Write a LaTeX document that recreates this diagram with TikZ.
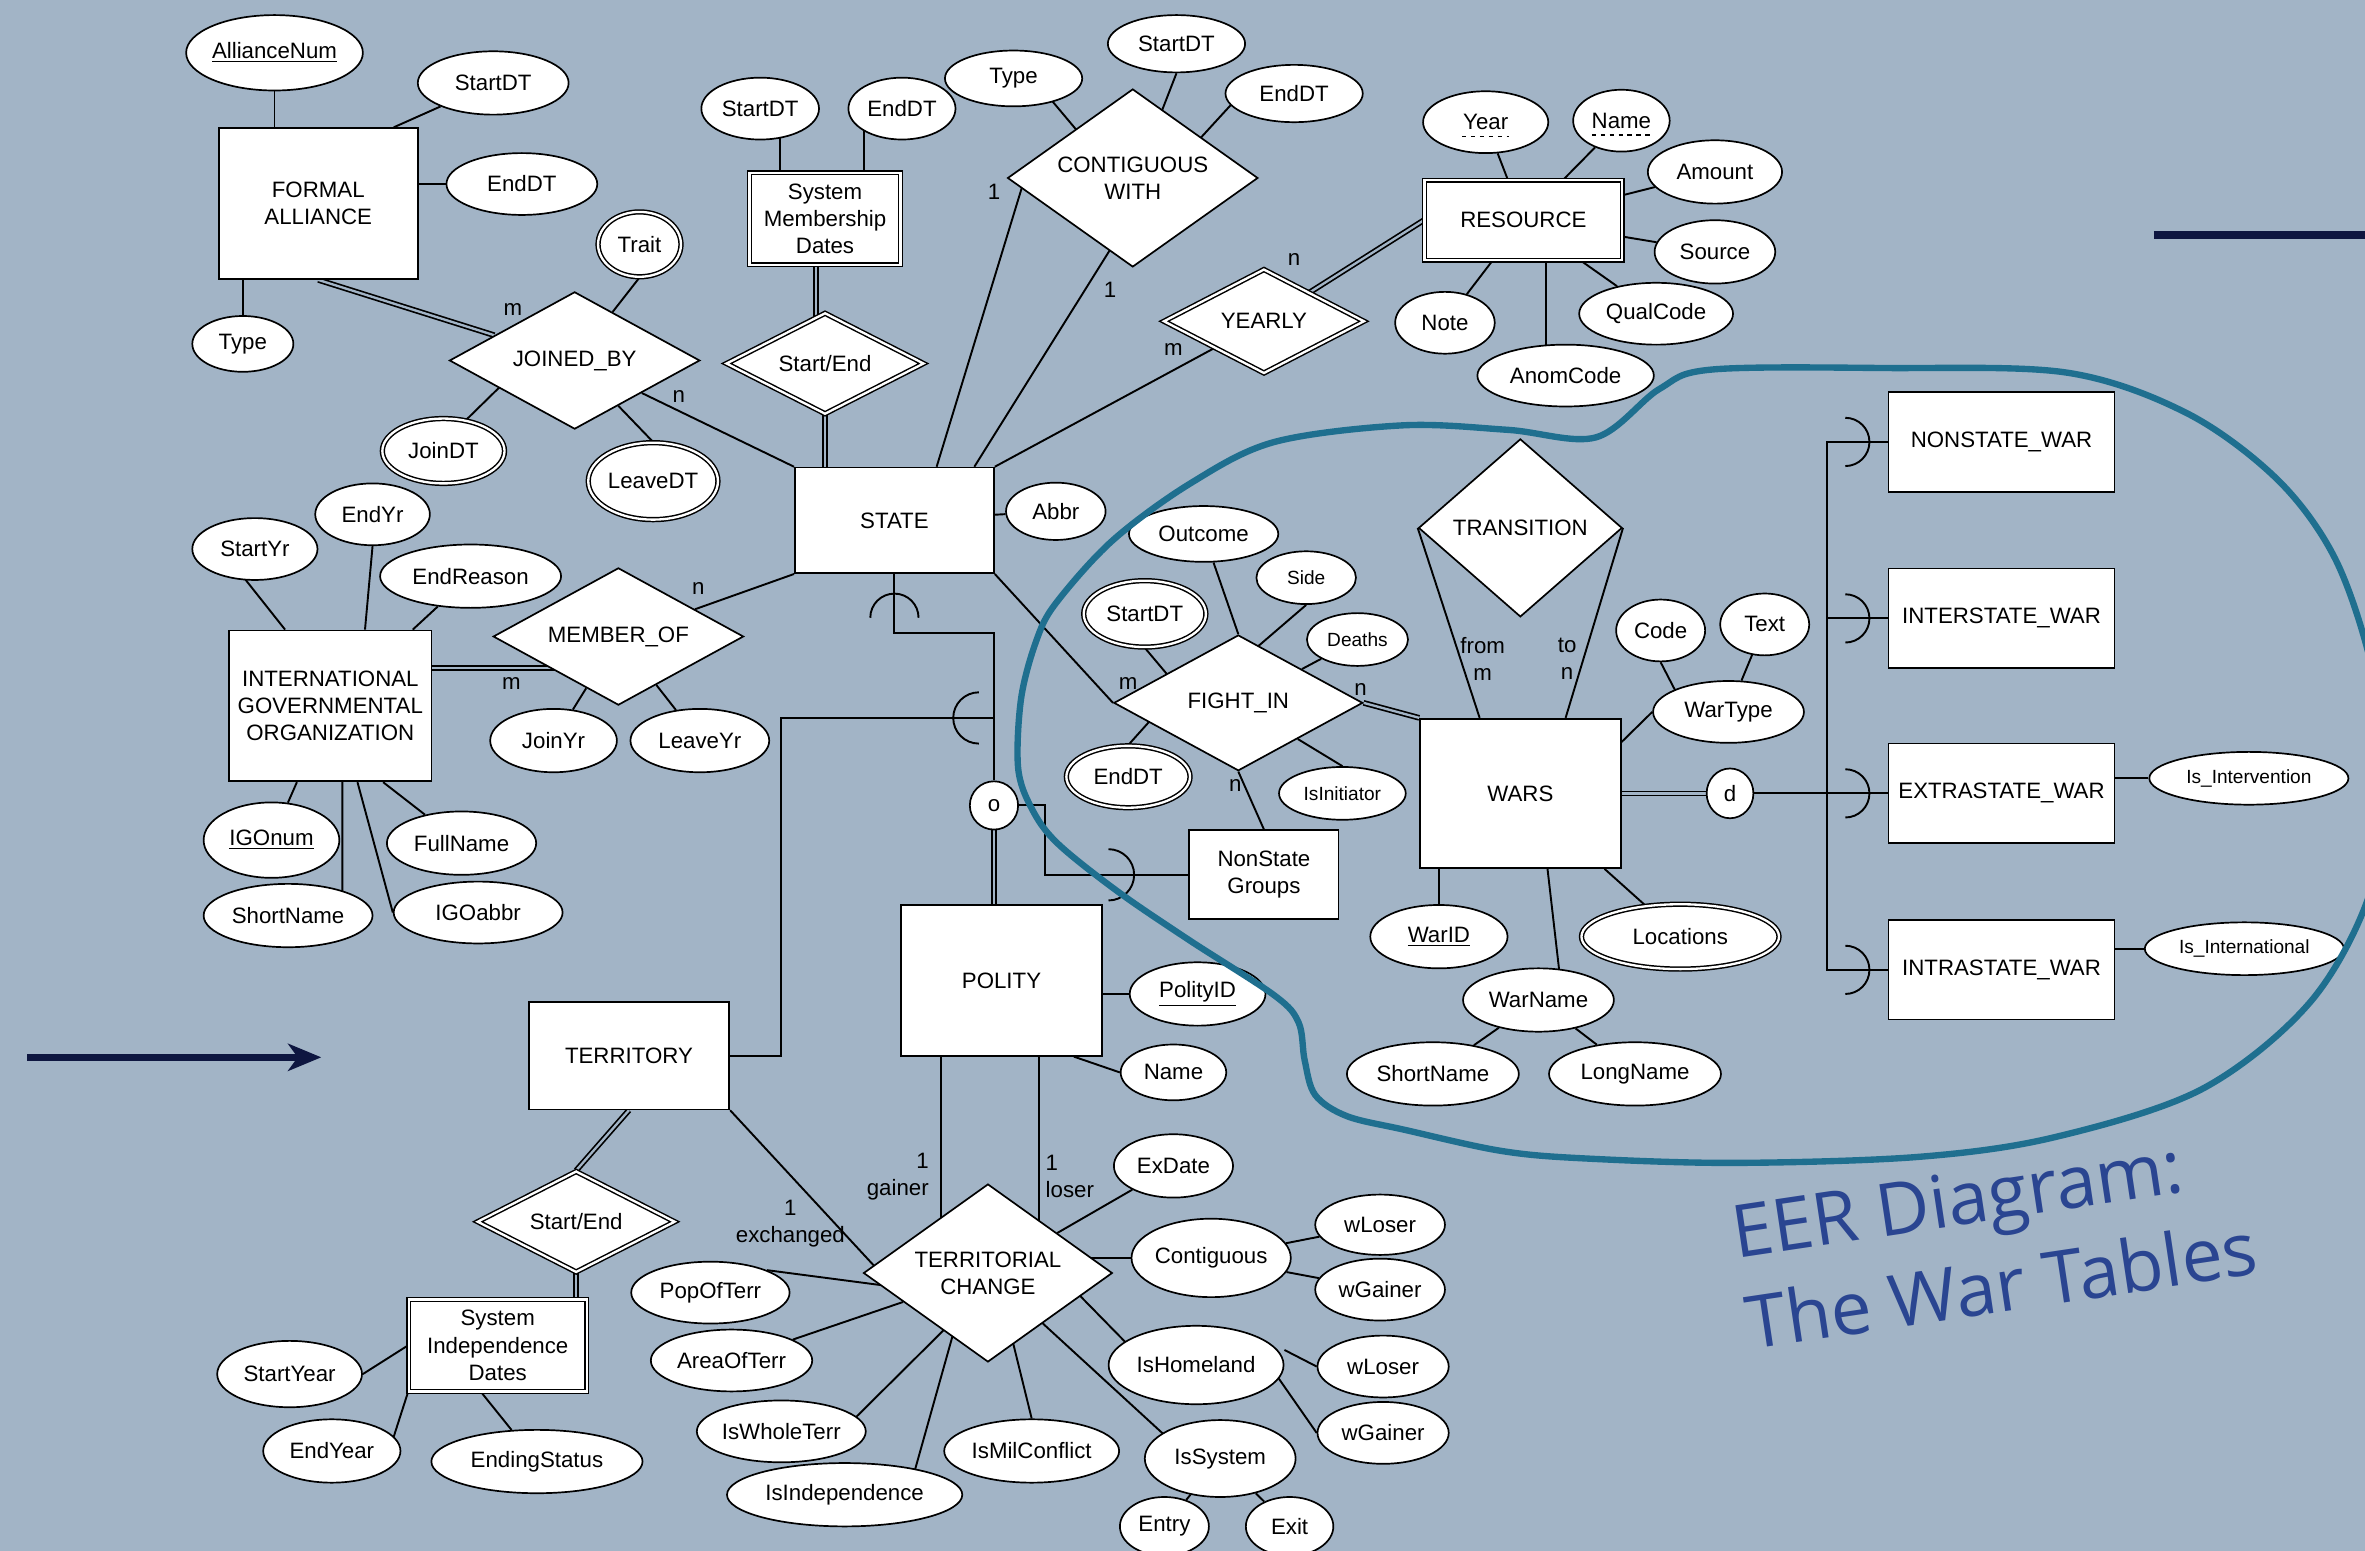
\documentclass[tikz,border=0pt]{standalone}
\usepackage{fontspec}
\setmainfont{Liberation Sans}
\newfontfamily\titlefont{Open Sans}
\usepackage{tikz}
\usetikzlibrary{shapes.geometric,arrows.meta,calc,backgrounds}
\definecolor{bg}{HTML}{A2B4C6}
\definecolor{ring}{HTML}{1F6F8F}
\definecolor{dark}{HTML}{0E1640}
\definecolor{ttl}{HTML}{2A4591}
\newcommand{\smallfnt}{\fontsize{9}{10.5}\selectfont}
\tikzset{
  ent/.style={draw, fill=white, line width=0.8pt, align=center, inner sep=1pt},
  went/.style={ent, line width=0.7pt, double, double distance=1.1pt},
  rel/.style={diamond, draw, fill=white, line width=0.8pt, align=center, inner sep=0pt},
  wrel/.style={rel, line width=0.7pt, double, double distance=1.1pt},
  att/.style={ellipse, draw, fill=white, line width=0.8pt, inner sep=0pt, align=center},
  matt/.style={att, line width=0.7pt, double, double distance=1.1pt},
  lnk/.style={line width=0.9pt},
  dbl/.style={line width=0.8pt, double=bg, double distance=1.1pt},
  partial/.style={line width=0.8pt, dash pattern=on 2pt off 2.2pt},
  card/.style={inner sep=0pt, align=center},
  heading/.style={font=\titlefont\fontsize{34.5}{43.5}\selectfont, text=ttl, inner sep=0pt, rotate=8.5, align=left},
}

\begin{document}
\begin{tikzpicture}[x=0.25mm, y=-0.25mm, font=\fontsize{10.5}{12.8}\selectfont]
  \useasboundingbox (0,0) rectangle (1568,1028);
  % entities
  \node[ent, minimum width=33mm, minimum height=25mm] (fa) at (211,135) {FORMAL\\ALLIANCE};
  \node[went, minimum width=25mm, minimum height=15.25mm] (smd) at (547,145) {System\\Membership\\Dates};
  \node[ent, minimum width=33mm, minimum height=17.5mm] (state) at (593,345) {STATE};
  \node[went, minimum width=32.75mm, minimum height=13.25mm] (res) at (1010,146) {RESOURCE};
  \node[ent, minimum width=33.5mm, minimum height=25mm] (igo) at (219,468) {INTERNATIONAL\\GOVERNMENTAL\\ORGANIZATION};
  \node[ent, minimum width=33.25mm, minimum height=24.75mm] (wars) at (1008,526) {WARS};
  \node[ent, minimum width=24.75mm, minimum height=14.75mm] (nsg) at (838,580) {NonState\\Groups};
  \node[ent, minimum width=33.25mm, minimum height=25mm] (polity) at (664,650) {POLITY};
  \node[ent, minimum width=33.25mm, minimum height=17.75mm] (terr) at (417,700) {TERRITORY};
  \node[went, minimum width=29.5mm, minimum height=15.25mm] (sid) at (330,892) {System\\Independence\\Dates};
  \node[ent, minimum width=37.5mm, minimum height=16.5mm] (nsw) at (1327,293) {NONSTATE\_WAR};
  \node[ent, minimum width=37.5mm, minimum height=16.5mm] (isw) at (1327,410) {INTERSTATE\_WAR};
  \node[ent, minimum width=37.5mm, minimum height=16.5mm] (esw) at (1327,526) {EXTRASTATE\_WAR};
  \node[ent, minimum width=37.5mm, minimum height=16.5mm] (itw) at (1327,643) {INTRASTATE\_WAR};
  % relationships
  \node[rel, minimum width=41.5mm, minimum height=22.75mm, shape aspect=1.8] (jb) at (381,239) {JOINED\_BY};
  \node[wrel, minimum width=32.75mm, minimum height=16.75mm, shape aspect=1.95] (se1) at (547,241) {Start/End};
  \node[rel, minimum width=41.5mm, minimum height=29.5mm, shape aspect=1.4] (cw) at (751,118) {CONTIGUOUS\\WITH};
  \node[wrel, minimum width=33.25mm, minimum height=17.25mm, shape aspect=1.9] (yearly) at (838,213) {YEARLY};
  \node[rel, minimum width=41.5mm, minimum height=22.75mm, shape aspect=1.8] (mo) at (410,422) {MEMBER\_OF};
  \node[rel, minimum width=33.75mm, minimum height=29.5mm, shape aspect=1.15] (trans) at (1008,350) {TRANSITION};
  \node[rel, minimum width=41.25mm, minimum height=22.5mm, shape aspect=1.8] (fi) at (821,466) {FIGHT\_IN};
  \node[wrel, minimum width=32.75mm, minimum height=16.75mm, shape aspect=1.95] (se2) at (382,810) {Start/End};
  \node[rel, minimum width=41.25mm, minimum height=29.5mm, shape aspect=1.4] (tc) at (655,844) {TERRITORIAL\\CHANGE};
  \node[circle, draw, fill=white, line width=0.8pt, minimum size=8mm, inner sep=0pt] (ovl) at (659,534) {o};
  \node[att, minimum width=7.75mm, minimum height=8.25mm] (dsj) at (1147,526) {d};
  % attributes
  \node[att, minimum width=27mm, minimum height=12.5mm] (anum) at (182,35) {\underline{AllianceNum}};
  \node[att, minimum width=25mm, minimum height=10.5mm] (fstart) at (327,55) {StartDT};
  \node[att, minimum width=25mm, minimum height=10.25mm] (fend) at (346,122) {EndDT};
  \node[att, minimum width=16.75mm, minimum height=9.25mm] (ftype) at (161,228) {Type};
  \node[matt, minimum width=13.75mm, minimum height=10.75mm] (trait) at (424,162) {Trait};
  \node[matt, minimum width=20.25mm, minimum height=10.75mm] (joindt) at (294,299) {JoinDT};
  \node[matt, minimum width=21.5mm, minimum height=12.75mm] (leavedt) at (433,319) {LeaveDT};
  \node[att, minimum width=19.5mm, minimum height=10.25mm] (sstart) at (504,72) {StartDT};
  \node[att, minimum width=17.75mm, minimum height=10.25mm] (send) at (598,72) {EndDT};
  \node[att, minimum width=22.75mm, minimum height=9.25mm] (ctype) at (672,52) {Type};
  \node[att, minimum width=22.75mm, minimum height=9.5mm] (cstart) at (780,29) {StartDT};
  \node[att, minimum width=22.75mm, minimum height=9.5mm] (cend) at (858,62) {EndDT};
  \node[att, minimum width=20.75mm, minimum height=10.25mm] (ryear) at (985,81) {Year};
  \node[att, minimum width=16mm, minimum height=10.25mm] (rname) at (1075,80) {Name};
  \draw[partial] ([xshift=-3.9mm, yshift=-1.1mm]ryear.base) -- ([xshift=3.9mm, yshift=-1.1mm]ryear.base);
  \draw[partial] ([xshift=-4.9mm, yshift=-1.1mm]rname.base) -- ([xshift=4.9mm, yshift=-1.1mm]rname.base);
  \node[att, minimum width=22.25mm, minimum height=10.5mm] (ramt) at (1137,114) {Amount};
  \node[att, minimum width=20mm, minimum height=10.5mm] (rsrc) at (1137,167) {Source};
  \node[att, minimum width=25.5mm, minimum height=10.25mm] (rqual) at (1098,208) {QualCode};
  \node[att, minimum width=16.5mm, minimum height=10.25mm] (rnote) at (958,214) {Note};
  \node[att, minimum width=29.25mm, minimum height=10.25mm] (ranom) at (1038,249) {AnomCode};
  \node[att, minimum width=16.5mm, minimum height=9.5mm] (abbr) at (700,339) {Abbr};
  \node[att, minimum width=20.75mm, minimum height=10.25mm] (startyr) at (169,364) {StartYr};
  \node[att, minimum width=19mm, minimum height=10.25mm] (endyr) at (247,341) {EndYr};
  \node[att, minimum width=30mm, minimum height=10.5mm] (endreason) at (312,382) {EndReason};
  \node[att, minimum width=21mm, minimum height=10.5mm] (joinyr) at (367,491) {JoinYr};
  \node[att, minimum width=23mm, minimum height=10.5mm] (leaveyr) at (464,491) {LeaveYr};
  \node[att, minimum width=22.5mm, minimum height=12.5mm] (igonum) at (180,557) {\underline{IGOnum}};
  \node[att, minimum width=24.75mm, minimum height=10.5mm] (fullname) at (306,559) {FullName};
  \node[att, minimum width=28mm, minimum height=10.5mm] (ishort) at (191,607) {ShortName};
  \node[att, minimum width=28mm, minimum height=10.25mm] (igoabbr) at (317,605) {IGOabbr};
  \node[att, minimum width=24.75mm, minimum height=9.25mm] (outcome) at (798,354) {Outcome};
  \node[att, minimum width=16.5mm, minimum height=8.75mm, font=\smallfnt] (side) at (866,383) {Side};
  \node[matt, minimum width=20.25mm, minimum height=11mm] (fstartdt) at (759,407) {StartDT};
  \node[att, minimum width=16.75mm, minimum height=8.75mm, font=\smallfnt] (deaths) at (900,424) {Deaths};
  \node[matt, minimum width=20.5mm, minimum height=10.25mm] (fenddt) at (748,515) {EndDT};
  \node[att, minimum width=21mm, minimum height=8.75mm, font=\smallfnt] (isinit) at (890,526) {IsInitiator};
  \node[att, minimum width=14.75mm, minimum height=10.25mm] (code) at (1101,418) {Code};
  \node[att, minimum width=14.75mm, minimum height=10.25mm] (wtext) at (1170,414) {Text};
  \node[att, minimum width=25mm, minimum height=10.25mm] (wartype) at (1146,472) {WarType};
  \node[att, minimum width=22.75mm, minimum height=10.5mm] (warid) at (954,621) {\underline{WarID}};
  \node[matt, minimum width=32.75mm, minimum height=10.75mm] (locs) at (1114,621) {Locations};
  \node[att, minimum width=25mm, minimum height=10.5mm] (warname) at (1020,663) {WarName};
  \node[att, minimum width=28.5mm, minimum height=10.5mm] (wshort) at (950,712) {ShortName};
  \node[att, minimum width=28.5mm, minimum height=10.5mm] (wlong) at (1084,712) {LongName};
  \node[att, minimum width=33mm, minimum height=8.75mm, font=\smallfnt] (isinterv) at (1491,516) {Is\_Intervention};
  \node[att, minimum width=33mm, minimum height=8.75mm, font=\smallfnt] (isintl) at (1488,629) {Is\_International};
  \node[att, minimum width=22.5mm, minimum height=10.5mm] (polid) at (794,659) {\underline{PolityID}};
  \node[att, minimum width=17.5mm, minimum height=9.25mm] (pname) at (778,711) {Name};
  \node[att, minimum width=19.75mm, minimum height=10.5mm] (exdate) at (778,773) {ExDate};
  \node[att, minimum width=25mm, minimum height=13mm] (contig) at (803,834) {Contiguous};
  \node[att, minimum width=21.5mm, minimum height=10mm] (wl1) at (915,812) {wLoser};
  \node[att, minimum width=21.5mm, minimum height=10.25mm] (wg1) at (915,855) {wGainer};
  \node[att, minimum width=29mm, minimum height=13mm] (home) at (793,905) {IsHomeland};
  \node[att, minimum width=21.75mm, minimum height=10.25mm] (wl2) at (917,906) {wLoser};
  \node[att, minimum width=21.75mm, minimum height=10.25mm] (wg2) at (917,950) {wGainer};
  \node[att, minimum width=25mm, minimum height=12.75mm] (issys) at (809,967) {IsSystem};
  \node[att, minimum width=14.75mm, minimum height=9.75mm] (entry) at (772,1012) {Entry};
  \node[att, minimum width=14.5mm, minimum height=9.75mm] (exit) at (855,1012) {Exit};
  \node[att, minimum width=29mm, minimum height=10.5mm] (milc) at (684,962) {IsMilConflict};
  \node[att, minimum width=39mm, minimum height=10.5mm] (indep) at (560,991) {IsIndependence};
  \node[att, minimum width=28mm, minimum height=10.25mm] (whole) at (518,949) {IsWholeTerr};
  \node[att, minimum width=26.75mm, minimum height=10.25mm] (area) at (485,902) {AreaOfTerr};
  \node[att, minimum width=26.25mm, minimum height=10.25mm] (pop) at (471,857) {PopOfTerr};
  \node[att, minimum width=24mm, minimum height=11mm] (syear) at (192,911) {StartYear};
  \node[att, minimum width=22.75mm, minimum height=10.5mm] (eyear) at (220,962) {EndYear};
  \node[att, minimum width=35mm, minimum height=10.5mm] (estat) at (356,969) {EndingStatus};
  % cardinalities
  \node[card] (mFA) at (340,205) {m};
  \node[card] (nJB) at (450,263) {n};
  \node[card] (oneCWa) at (659,127) {1};
  \node[card] (oneCWb) at (736,192) {1};
  \node[card] (nYR) at (858,172) {n};
  \node[card] (mYR) at (778,232) {m};
  \node[card] (nMO) at (463,390) {n};
  \node[card] (mMO) at (339,453) {m};
  \node[card] (mFI) at (748,453) {m};
  \node[card] (nFI) at (902,457) {n};
  \node[card] (nNS) at (819,521) {n};
  \node[card] (fromTR) at (983,437) {from\\m};
  \node[card] (toTR) at (1039,437) {to\\n};
  \node[card, align=right, anchor=east] (gain) at (616,780) {1\\gainer};
  \node[card, align=left, anchor=west] (lose) at (693,780) {1\\loser};
  \node[card] (exch) at (524,811) {1\\exchanged};

  \begin{scope}[on background layer]
    \fill[bg] (0,0) rectangle (1568,1028);
    % formal alliance
    \draw[lnk] (anum) -- (anum |- fa);
    \draw[lnk] (fstart) -- ([xshift=12.5mm]fa.north);
    \draw[lnk] (fend) -- (fend -| fa);
    \draw[lnk] (ftype) -- (ftype |- fa);
    \draw[dbl] (fa.south) -- (jb);
    \draw[lnk] (trait.south) -- (jb);
    \draw[lnk] ([xshift=-1.5mm]joindt.center) -- ($(jb)+(-45,13)$);
    \draw[lnk] (leavedt.north) -- (jb);
    \draw[lnk] (jb) -- (state.north west);
    % membership dates, contiguity, resources
    \draw[lnk] ([xshift=3.25mm]sstart.center) -- ([xshift=3.25mm]sstart.center |- smd.north);
    \draw[lnk] ([xshift=-6.25mm]send.center) -- ([xshift=-6.25mm]send.center |- smd.north);
    \draw[dbl] ([xshift=-1.5mm]smd.south) -- ([xshift=-1.5mm]se1.center);
    \draw[dbl] (se1) -- (se1 |- state.north);
    \draw[lnk] ($(state.north)+(28,0)$) -- ($(cw.west)+(12,0)$);
    \draw[lnk] ($(state.north)+(53,0)$) -- ($(cw.south)+(-10,-20)$);
    \draw[lnk] ($(ctype)+(13,0)$) -- ($(cw)+(-24,-16)$);
    \draw[lnk] (cstart.south) -- ($(cw)+(16,-36)$);
    \draw[lnk] ($(cend)+(-35,0)$) -- ($(cw)+(39,-20)$);
    \draw[lnk] (yearly) -- (state.north east);
    \draw[dbl] (yearly) -- (res.west);
    \draw[lnk] (ryear) -- (res);
    \draw[lnk] (rname) -- (res);
    \draw[lnk] (ramt) -- (res);
    \draw[lnk] (rsrc) -- (res);
    \draw[lnk] (rqual) -- (res);
    \draw[lnk] (rnote) -- (res);
    \draw[lnk] ([xshift=-3.25mm]ranom.center) -- ([xshift=-3.25mm]ranom.center |- res.south);
    % state and igo
    \draw[lnk] (abbr) -- (state);
    \draw[lnk] (mo) -- (state.south west);
    \draw[dbl] ([yshift=6.25mm]igo.east) -- ([yshift=6.25mm]igo.east -| mo);
    \draw[lnk] (joinyr) -- (mo);
    \draw[lnk] (leaveyr) -- (mo);
    \draw[lnk] ([xshift=-3mm,yshift=2mm]startyr.south) -- ([xshift=-7.5mm]igo.north);
    \draw[lnk] (endyr.south) -- ([xshift=5.75mm]igo.north);
    \draw[lnk] (endreason) -- (igo);
    \draw[lnk] (igonum) -- (igo);
    \draw[lnk] ([xshift=9mm]ishort.center) -- ([xshift=2mm]igo.south);
    \draw[lnk] (igoabbr.west) -- ([xshift=4.5mm]igo.south);
    \draw[lnk] (fullname) -- ([xshift=8.75mm]igo.south);
    % fight in
    \draw[lnk] (fi.west) -- (state.south east);
    \draw[dbl] (fi.east) -- (wars.north west);
    \draw[lnk] (fi.south) -- (nsg.north);
    \draw[lnk] (outcome) -- (fi.north);
    \draw[lnk] (side.south) -- ($(fi.north)+(12,9)$);
    \draw[lnk] (fstartdt.south) -- ($(fi.west)+(40,-14)$);
    \draw[lnk] (fenddt.north) -- ($(fi.west)+(28,8)$);
    \draw[lnk] (deaths) -- (fi);
    \draw[lnk] (isinit.north) -- (fi);
    % wars
    \draw[lnk] (trans.west) -- ([xshift=-6.75mm]wars.north);
    \draw[lnk] (trans.east) -- ([xshift=7.5mm]wars.north);
    \draw[lnk] (wartype.west) -- ([yshift=8.5mm]wars.east);
    \draw[lnk] (code.south) -- ([xshift=-7mm]wartype.center);
    \draw[lnk] (wtext) -- (wartype);
    \draw[lnk] (warid) -- (warid |- wars.south);
    \draw[lnk] (locs) -- (wars);
    \draw[lnk] ([xshift=4mm]warname.center) -- ([xshift=4.5mm]wars.south);
    \draw[lnk] (wshort) -- (warname);
    \draw[lnk] (wlong) -- (warname);
    % disjoint war types
    \draw[dbl] (wars) -- (dsj);
    \draw[lnk] (dsj) -- (esw);
    \draw[lnk] (nsw.west) -- ++(-40,0) |- (itw.west);
    \draw[lnk] (isw.west) -- ++(-40,0);
    \foreach \s in {nsw,isw,esw,itw}
      \draw[lnk] ($(\s.west)+(-28,-16)$) arc[start angle=90, end angle=-90, radius=4mm];
    \draw[lnk] (isinterv) -- (isinterv -| esw.east);
    \draw[lnk] (isintl) -- (isintl -| itw.east);
    % polity overlap
    \draw[lnk] (state.south) -- ++(0,39) -| (ovl);
    \draw[lnk] ($(state.south)+(-16,29)$) arc[start angle=180, end angle=0, radius=4mm];
    \path (ovl) ++(0,-58) coordinate (tjoin);
    \draw[lnk] (terr.east) -- ++(34,0) |- (tjoin);
    \draw[lnk] ($(tjoin)+(-10,-17)$) arc[start angle=90, end angle=270, radius=4.25mm];
    \draw[dbl] (ovl) -- (ovl |- polity.north);
    \draw[lnk] (ovl.east) -- ++(17,0) |- (nsg.west);
    \draw[lnk] ($(nsg.west)+(-53,-17)$) arc[start angle=90, end angle=-90, radius=4.25mm];
    \draw[lnk] (polid) -- (polid -| polity.east);
    \draw[lnk] (pname.west) -- ([xshift=12mm]polity.south);
    % territorial change
    \draw[lnk] ([xshift=-10mm]polity.south) -- ([xshift=-10mm]polity.south |- tc);
    \draw[lnk] ([xshift=6.25mm]polity.south) -- ([xshift=6.25mm]polity.south |- tc);
    \draw[lnk] (terr.south east) -- ($(tc.west)+(12,0)$);
    \draw[lnk] (exdate) -- (tc);
    \draw[lnk] (contig.west) -- (contig.west -| tc);
    \draw[lnk] (wl1) -- (contig);
    \draw[lnk] (wg1) -- (contig);
    \draw[lnk] ([xshift=-8mm]home.center) -- ($(tc.east)+(-28,9)$);
    \draw[lnk] (wl2.west) -- ([yshift=2.5mm]home.east);
    \draw[lnk] (wg2.west) -- ([xshift=-2.5mm]home.east);
    \draw[lnk] ([xshift=-5mm]issys.center) -- ($(tc)+(25,23)$);
    \draw[lnk] (entry) -- (issys);
    \draw[lnk] (exit) -- (issys);
    \draw[lnk] (milc.north) -- ($(tc.south)+(15,-20)$);
    \draw[lnk] ([xshift=10.5mm]indep.center) -- ($(tc.south)+(-22,-23)$);
    \draw[lnk] ([xshift=10mm]whole.center) -- ($(tc.south)+(-25,-26)$);
    \draw[lnk] (area) -- (tc);
    \draw[lnk] (pop.north east) -- ($(tc.west)+(12,8)$);
    % territory
    \draw[dbl] (terr.south) -- (se2.north);
    \draw[dbl] (se2.south) -- (se2.south |- sid.north);
    \draw[lnk] (syear.east) -- (sid.west);
    \draw[lnk] ([xshift=9.5mm]eyear.center) -- (sid.south west);
    \draw[lnk] (estat) -- ([xshift=-2.75mm]sid.south);
  \end{scope}

  % title and markers
  \node[heading, anchor=base west] (ttl) at (1160,895) {EER Diagram:\\The War Tables};
  \coordinate (arrS) at (18,701);
  \coordinate (arrE) at (213,701);
  \draw[dark, line width=3.5pt, -{Stealth[length=5.5mm, width=4.5mm, inset=1.6mm]}] (arrS) -- (arrE);
  \coordinate (barS) at (1428,156);
  \coordinate (barE) at (1568,156);
  \draw[dark, line width=3.9pt] (barS) -- (barE);
  % war tables outline
  \begin{scope}
    \clip (0,0) rectangle (1568,1028);
    \draw[ring, line width=3pt] plot[smooth cycle, tension=0.55] coordinates {
      (700,400) (738,358) (790,320) (845,293) (930,282) (1000,285) (1058,290)
      (1100,258) (1135,245) (1250,244) (1370,247) (1450,274) (1510,318)
      (1548,370) (1572,440) (1582,510) (1572,590) (1532,664) (1460,722)
      (1362,754) (1272,767) (1150,771) (1050,768) (995,763) (931,749)
      (893,740) (872,726) (865,703) (861,678) (845,660) (788,623) (741,591)
      (701,559) (684,536) (675,509) (677,463) (687,425)};
  \end{scope}
\end{tikzpicture}
\end{document}
